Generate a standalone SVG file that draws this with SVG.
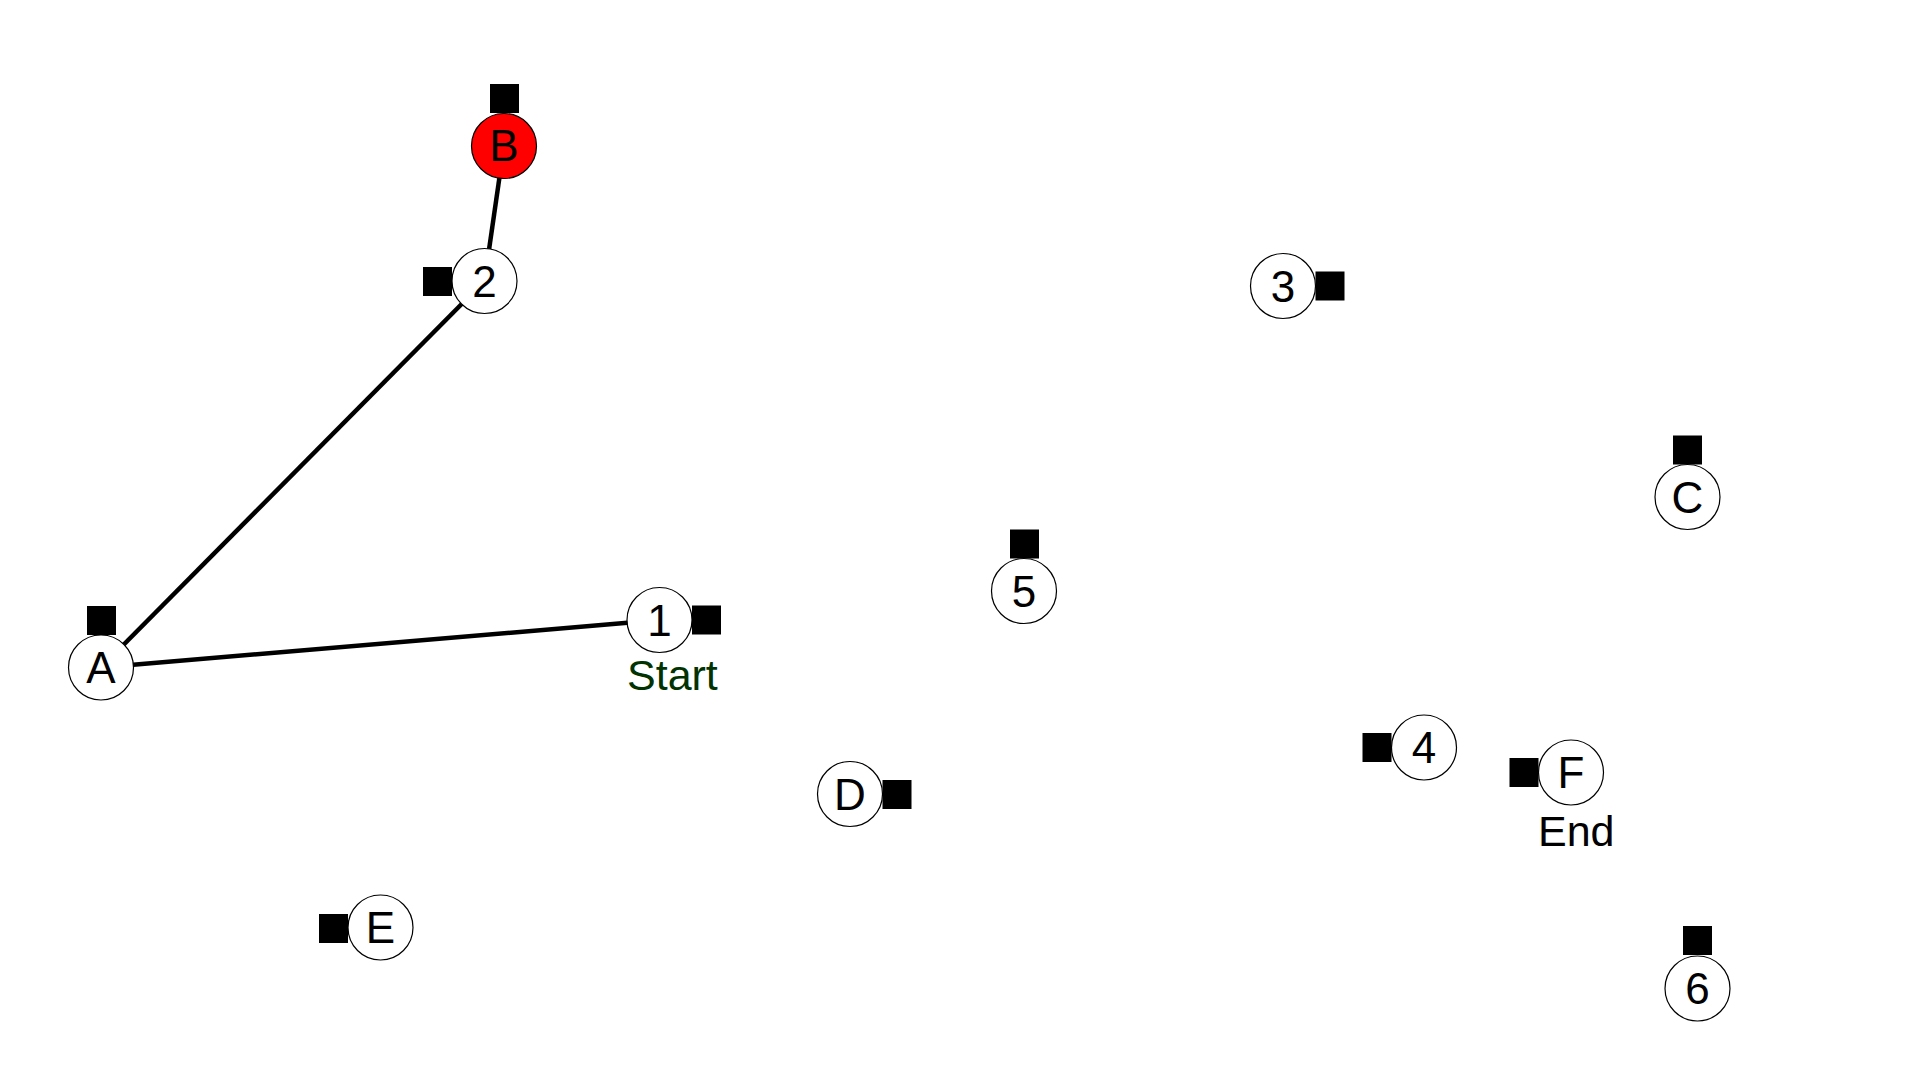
<svg xmlns="http://www.w3.org/2000/svg" width="1920" height="1080" viewBox="0 0 1920 1080">
<style>
.bg{fill:#ffffff}
.edge{stroke:#000000;stroke-width:4.5;fill:none}
.node circle{fill:#ffffff;stroke:#000000;stroke-width:1.2}
.node.red circle{fill:#ff0000}
.node rect{fill:#000000}
.lbl{font-family:"Liberation Sans",Arial,sans-serif;font-size:44px;fill:#000000;text-anchor:middle}
.cap{font-family:"Liberation Sans",Arial,sans-serif;font-size:43px}
</style>
<rect class="bg" x="0" y="0" width="1920" height="1080"/>
<g id="connectors">
<line class="edge" x1="504" y1="146" x2="484.5" y2="281"/>
<line class="edge" x1="484.5" y1="281" x2="101" y2="667.5"/>
<line class="edge" x1="101" y1="667.5" x2="659.5" y2="620"/>
</g>
<g id="node-A" class="node"><rect x="87" y="606" width="29" height="29"/><circle cx="101" cy="667.5" r="32.5"/><text class="lbl" x="101" y="683">A</text></g>
<g id="node-B" class="node red"><rect x="490" y="84" width="29" height="29"/><circle cx="504" cy="146" r="32.5"/><text class="lbl" x="504" y="161">B</text></g>
<g id="node-2" class="node"><rect x="423" y="267" width="29" height="29"/><circle cx="484.5" cy="281" r="32.5"/><text class="lbl" x="484.5" y="296.5">2</text></g>
<g id="node-1" class="node"><rect x="692" y="605.5" width="29" height="29"/><circle cx="659.5" cy="620" r="32.5"/><text class="lbl" x="659.5" y="635.5">1</text><text class="cap" x="627" y="690" fill="#003300">Start</text></g>
<g id="node-3" class="node"><rect x="1315.5" y="271.5" width="29" height="29"/><circle cx="1283" cy="286" r="32.5"/><text class="lbl" x="1283" y="301.5">3</text></g>
<g id="node-C" class="node"><rect x="1673" y="435.5" width="29" height="29"/><circle cx="1687.5" cy="497" r="32.5"/><text class="lbl" x="1687.5" y="512.5">C</text></g>
<g id="node-5" class="node"><rect x="1010" y="529.5" width="29" height="29"/><circle cx="1024" cy="591" r="32.5"/><text class="lbl" x="1024" y="606.5">5</text></g>
<g id="node-D" class="node"><rect x="882.5" y="780" width="29" height="29"/><circle cx="850" cy="794" r="32.5"/><text class="lbl" x="850" y="809.5">D</text></g>
<g id="node-4" class="node"><rect x="1362.5" y="733" width="29" height="29"/><circle cx="1424" cy="747.5" r="32.5"/><text class="lbl" x="1424" y="763">4</text></g>
<g id="node-F" class="node"><rect x="1509.5" y="758" width="29" height="29"/><circle cx="1571" cy="772.5" r="32.5"/><text class="lbl" x="1571" y="788">F</text><text class="cap" x="1538" y="846" fill="#000000">End</text></g>
<g id="node-E" class="node"><rect x="319" y="914" width="29" height="29"/><circle cx="380.5" cy="927.5" r="32.5"/><text class="lbl" x="380.5" y="943">E</text></g>
<g id="node-6" class="node"><rect x="1683" y="926" width="29" height="29"/><circle cx="1697.5" cy="988.5" r="32.5"/><text class="lbl" x="1697.5" y="1004">6</text></g>
</svg>
